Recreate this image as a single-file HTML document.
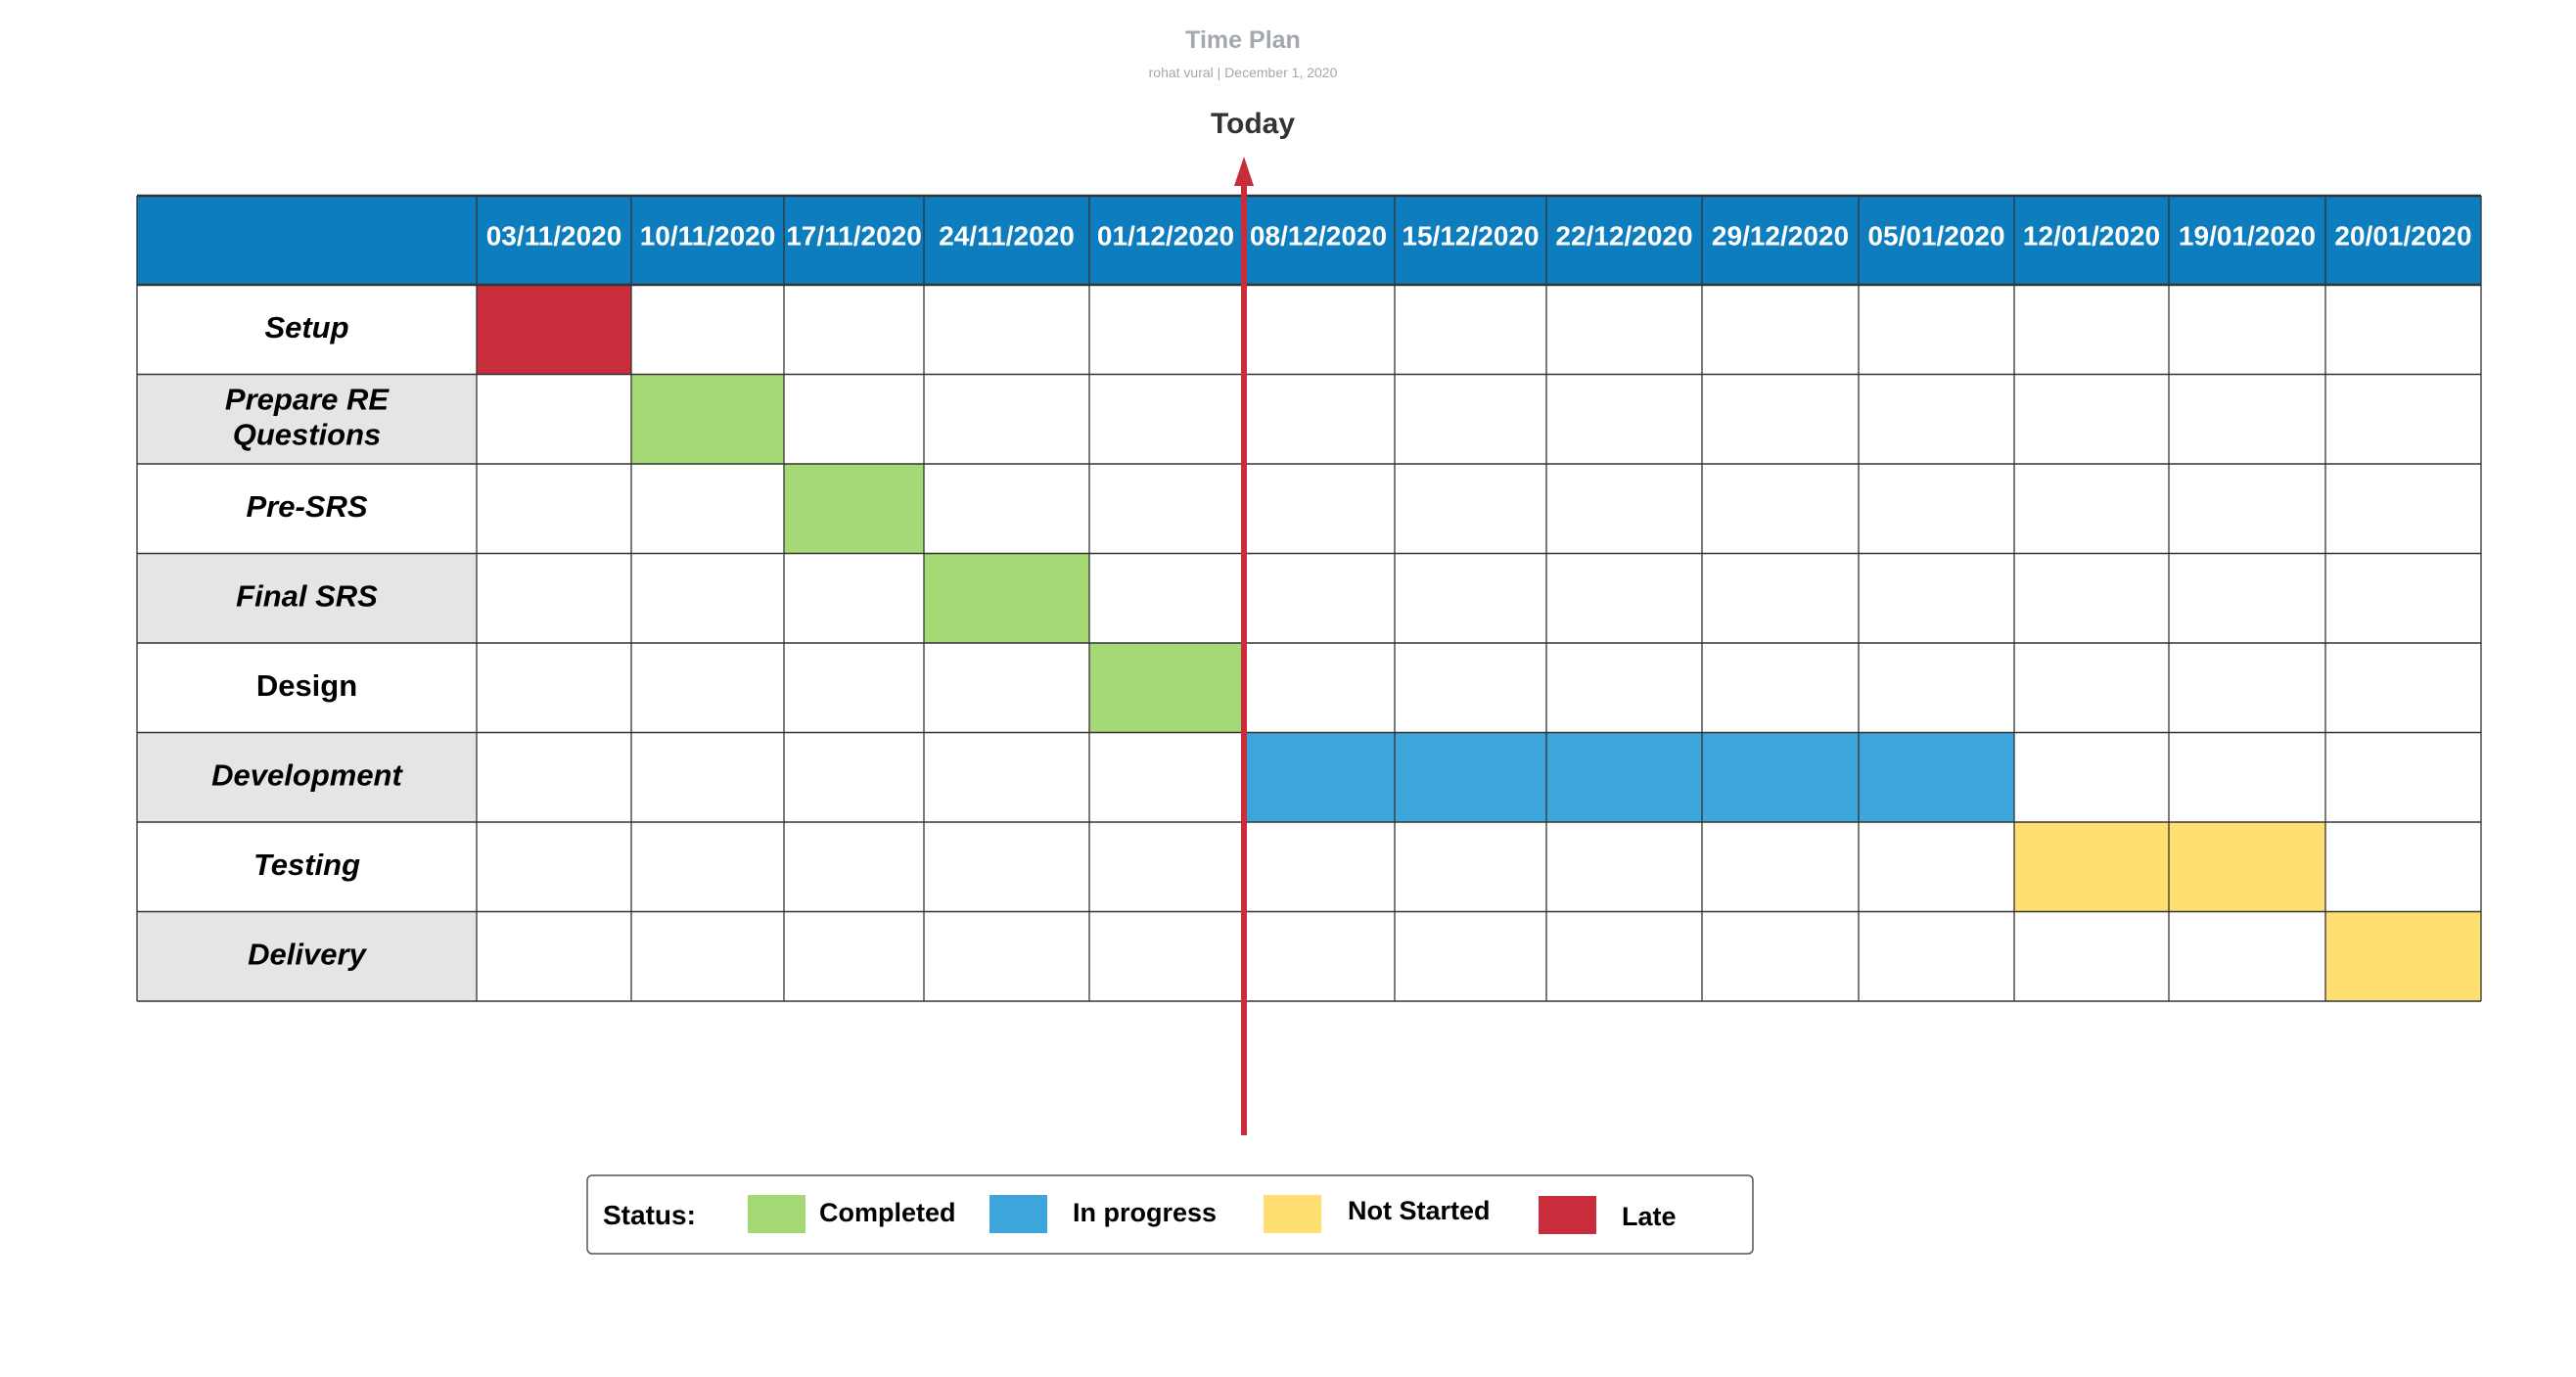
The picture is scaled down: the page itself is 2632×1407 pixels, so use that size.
<!DOCTYPE html>
<html><head><meta charset="utf-8"><style>body{margin:0;background:#fff}svg{display:block}text{font-family:"Liberation Sans",sans-serif}</style></head>
<body>
<svg id="chart" width="2632" height="1407" viewBox="0 0 2632 1407" xmlns="http://www.w3.org/2000/svg">
<text x="1270" y="49" text-anchor="middle" font-size="25" font-weight="bold" fill="#a3a7ae">Time Plan</text>
<text x="1270" y="79" text-anchor="middle" font-size="14" fill="#a3a7ae">rohat vural  |  December 1, 2020</text>
<text x="1280" y="136" text-anchor="middle" font-size="30" font-weight="bold" fill="#333">Today</text>
<g id="grid"></g>
<g id="today"></g>
<g>
<rect x="600" y="1201" width="1191" height="80" rx="5" fill="#fff" stroke="#555" stroke-width="1.5"/>
<text x="616" y="1251" font-size="28" font-weight="bold" fill="#000">Status:</text>
<rect x="764" y="1221" width="59" height="39" fill="#a5d975"/>
<text x="837" y="1248" font-size="27" font-weight="bold">Completed</text>
<rect x="1011" y="1221" width="59" height="39" fill="#3ca5dc"/>
<text x="1096" y="1248" font-size="27" font-weight="bold">In progress</text>
<rect x="1291" y="1221" width="59" height="39" fill="#ffdf71"/>
<text x="1377" y="1246" font-size="27" font-weight="bold">Not Started</text>
<rect x="1572" y="1222" width="59" height="39" fill="#c92c3a"/>
<text x="1657" y="1252" font-size="27" font-weight="bold">Late</text>
</g>
</svg>
<script>
const dates=["03/11/2020","10/11/2020","17/11/2020","24/11/2020","01/12/2020","08/12/2020","15/12/2020","22/12/2020","29/12/2020","05/01/2020","12/01/2020","19/01/2020","20/01/2020"];
const tasks=["Setup","Prepare RE\nQuestions","Pre-SRS","Final SRS","Design","Development","Testing","Delivery"];
const italic=[true,true,true,true,false,true,true,true];
const startCol=[0,1,2,3,4,5,10,12];
const spanCols=[1,1,1,1,1,5,2,1];
const status=["late","completed","completed","completed","completed","progress","notstarted","notstarted"];
const todayCol=5;
const colBounds=[140,487,645,801,944,1113,1269,1425,1580,1739,1899,2058,2216,2376,2535];
const colors={late:"#c92c3a",completed:"#a5d975",progress:"#3ca5dc",notstarted:"#ffdf71"};
const NS="http://www.w3.org/2000/svg";
const top0=200,headH=91,rowH=91.5;
const g=document.getElementById('grid');
function mk(t,a,p){const e=document.createElementNS(NS,t);for(const k in a)e.setAttribute(k,a[k]);(p||g).appendChild(e);return e;}
function rowY(r){return top0+headH+r*rowH;}
const lastX=colBounds[colBounds.length-1];
let hd=mk('rect',{x:140,y:top0,width:lastX-140,height:headH,fill:"#0e7dbd"});


tasks.forEach((t,r)=>{
  const y=rowY(r);
  const bg=mk('rect',{x:140,y:y,width:colBounds[1]-140,height:rowH,fill:r%2?"#e5e5e5":"#fff"});
  
  
  const lines=t.split("\n");
  lines.forEach((ln,i)=>{
    const tx=mk('text',{x:(140+colBounds[1])/2,y:y+rowH/2+8+(i-(lines.length-1)/2)*36,"text-anchor":"middle","font-size":31,"font-weight":"bold","font-style":italic[r]?"italic":"normal",fill:"#000"});
    tx.textContent=ln;
    
    
  });
  const x0=colBounds[startCol[r]+1],x1=colBounds[startCol[r]+spanCols[r]+1];
  const b=mk('rect',{x:x0,y:y,width:x1-x0,height:rowH,fill:colors[status[r]]});
  
  
});
dates.forEach((d,i)=>{
  const x0=colBounds[i+1],x1=colBounds[i+2];
  const tx=mk('text',{x:(x0+x1)/2,y:top0+headH/2+5,"text-anchor":"middle","font-size":28,"font-weight":"bold",fill:"#fff"});
  tx.textContent=d;
  
  
});
const bottom=rowY(tasks.length);
colBounds.forEach((x,i)=>{
  const l=mk('line',{x1:x,y1:top0,x2:x,y2:bottom,stroke:"#333","stroke-width":1.3});
  
  
});
for(let r=0;r<=tasks.length+1;r++){
  const y=r===0?top0:rowY(r-1);
  const l=mk('line',{x1:140,y1:y,x2:lastX,y2:y,stroke:"#333","stroke-width":r<2?2.5:1.5});
  
  
}
const tg=document.getElementById('today');
const tx=colBounds[todayCol+1]+2;
const ln=mk('rect',{x:tx-3,y:180,width:6,height:980,fill:"#c92c3a"},tg);


const ar=mk('polygon',{points:`${tx},160 ${tx-10},190 ${tx+10},190`,fill:"#c92c3a"},tg);


</script>
</body></html>
